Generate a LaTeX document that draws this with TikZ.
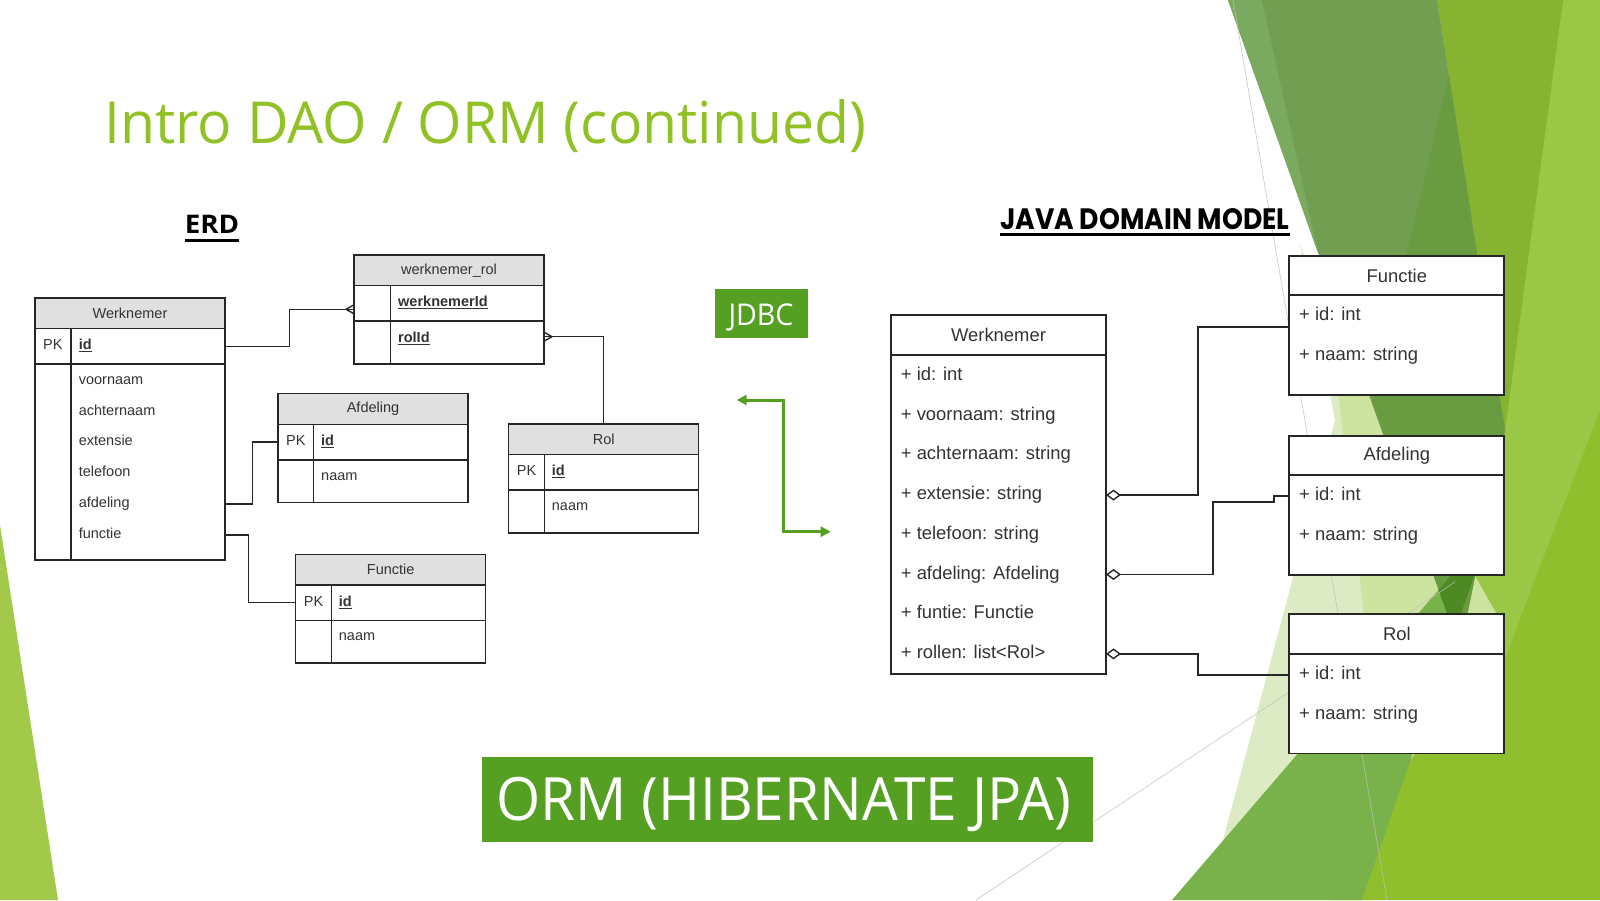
\documentclass[tikz,border=0pt]{standalone}
\usepackage{fontspec}
\setmainfont{Liberation Sans}
\newfontfamily\facetfont{Open Sans}
\newfontfamily\modelfont{Poppins}
\usetikzlibrary{arrows.meta, calc, positioning}

\definecolor{facetgreen}{HTML}{90C226}
\definecolor{boxgreen}{HTML}{55A023}
\definecolor{linegray}{HTML}{262626}
\definecolor{textgray}{HTML}{333333}
\definecolor{headgray}{HTML}{E0E0E0}
\definecolor{facetleft}{HTML}{A3C94B}
\definecolor{facetbase}{HTML}{8FBF2C}
\definecolor{facetlight}{HTML}{9BC746}
\definecolor{facetolive}{HTML}{86B432}
\definecolor{facetdark}{HTML}{719E51}
\definecolor{facetmid}{HTML}{7AAA5F}
\definecolor{facetshade}{HTML}{699B41}
\definecolor{facetpale}{HTML}{DDEBC4}
\definecolor{facetsoft}{HTML}{CDE4A1}
\definecolor{facetgrass}{HTML}{79B24B}
\definecolor{facetdeep}{HTML}{4D8A24}

\newcommand{\erdfont}{\fontsize{14.5}{17}\selectfont}
\newcommand{\umlfont}{\fontsize{18.4}{22}\selectfont}

\tikzset{
  erdline/.style={draw=linegray, line width=1.4pt},
  erdhead/.style={erdline, fill=headgray, minimum width=190pt, minimum height=30.6pt,
    inner sep=0, outer sep=0, anchor=north west, font=\erdfont, text=textgray},
  erdrow/.style={erdline, fill=white, minimum width=190pt, inner sep=0, outer sep=0, anchor=north west},
  erdtext/.style={font=\erdfont, text=textgray, anchor=west, inner sep=0,
    text height=10pt, text depth=3pt},
  umlline/.style={draw=linegray, line width=1.8pt},
  umlhead/.style={umlline, fill=white, minimum width=215pt, minimum height=39.6pt,
    inner sep=0, outer sep=0, anchor=north west, font=\umlfont, text=textgray},
  umlbody/.style={umlline, fill=white, minimum width=215pt, inner sep=0, outer sep=0, anchor=north west},
  umltext/.style={font=\umlfont, text=textgray, anchor=west, inner sep=0,
    text height=13pt, text depth=4pt},
  diamondtail/.style={{Diamond[open, fill=white, length=15pt, width=11pt, line width=1.4pt]}-},
  jdbcarrow/.style={draw=boxgreen, line width=3pt,
    {Triangle[length=10pt, width=10pt]}-{Triangle[length=10pt, width=10pt]}},
  facetrule/.style={draw=black!25, line width=0.5pt},
  crowfoot/.pic={\draw[erdline] (-8,0) -- (0,-4.5) (-8,0) -- (0,4.5);}
}

\begin{document}
\begin{tikzpicture}[x=1pt, y=-1pt]
% Canvas
\useasboundingbox (0,0) rectangle (1600,900);
\fill[white] (0,0) rectangle (1600,900);

% Facets
\fill[facetleft] (0,525) -- (0,900) -- (58,900) -- cycle;
\fill[facetbase] (1437,0) -- (1600,0) -- (1600,900) -- (1330,900) -- (1460,650) -- (1505,430) -- cycle;
\fill[facetlight] (1563,0) -- (1600,0) -- (1600,410) -- (1530,592) -- (1490,700) -- (1460,650) -- (1505,430) -- cycle;
\fill[facetolive] (1437,0) -- (1563,0) -- (1505,430) -- cycle;
\fill[facetpale] (1300,245) -- (1440,600) -- (1290,790) -- (1223,840) -- (1335,420) -- cycle;
\fill[facetsoft] (1330,320) -- (1500,620) -- (1385,800) -- cycle;
\fill[facetdark] (1228,0) -- (1437,0) -- (1505,430) -- (1460,650) -- cycle;
\fill[facetmid] (1228,0) -- (1262,0) -- (1318,253) -- cycle;
\fill[facetshade] (1449,75) -- (1372,400) -- (1460,650) -- (1505,430) -- cycle;
\fill[facetgrass] (1172,900) -- (1490,530) -- (1362,900) -- cycle;
\begin{scope}
  \clip (1228,0) -- (1437,0) -- (1505,430) -- (1460,650) -- cycle;
  \fill[facetdeep] (1172,900) -- (1490,530) -- (1362,900) -- cycle;
\end{scope}
\draw[facetrule] (1233,0) -- (1387,900);
\draw[facetrule] (976,900) -- (1455,582);

% Title and headings
\node[anchor=base west, inner sep=0, text=facetgreen] (title) at (104.5,143.3)
  {\resizebox{761pt}{44pt}{\facetfont Intro DAO / ORM (continued)}};
\node[anchor=base west, inner sep=0] (erd) at (184.6,233.3)
  {\resizebox{54.4pt}{18.3pt}{\facetfont\bfseries ERD}};
\draw[line width=3pt] ($(erd.base west)+(0,6.7)$) -- ($(erd.base east)+(0,6.7)$);
\node[anchor=base west, inner sep=0] (javamodel) at (1000,229.3)
  {\resizebox{289.3pt}{21pt}{\modelfont\bfseries JAVA DOMAIN MODEL}};
\draw[line width=2.8pt] ($(javamodel.base west)+(0,5)$) -- ($(javamodel.base east)+(0,5)$);

% ERD: Werknemer
\node[erdhead] (erdwn) at (35,298) {Werknemer};
\node[erdrow, minimum height=35.5pt] (erdwn-pk) at (erdwn.south west) {};
\node[erdrow, minimum height=196pt] (erdwn-body) at (erdwn-pk.south west) {};
\draw[erdline] ($(erdwn-pk.north west)+(36,0)$) -- ($(erdwn-body.south west)+(36,0)$);
\node[erdtext] (erdwn-pklbl) at ($(erdwn-pk.west)+(8,0)$) {PK};
\node[erdtext] (erdwn-id) at ($(erdwn-pk.west)+(43.6,0)$) {\textbf{\underline{id}}};
\foreach \fld [count=\i from 0] in {voornaam, achternaam, extensie, telefoon, afdeling, functie}
  \node[erdtext] (erdwn-\fld) at ($(erdwn-body.north west)+(43.6,16.7+30.8*\i)$) {\fld};

% ERD: werknemer_rol
\node[erdhead] (erdwr) at (354,255) {werknemer\_rol};
\node[erdrow, minimum height=35.4pt] (erdwr-r1) at (erdwr.south west) {};
\node[erdrow, minimum height=43pt] (erdwr-r2) at (erdwr-r1.south west) {};
\draw[erdline] ($(erdwr-r1.north west)+(36.4,0)$) -- ($(erdwr-r2.south west)+(36.4,0)$);
\node[erdtext] (erdwr-wid) at ($(erdwr-r1.west)+(44,0)$) {\textbf{\underline{werknemerId}}};
\node[erdtext] (erdwr-rid) at ($(erdwr-r2.north west)+(44,17.7)$) {\textbf{\underline{rolId}}};

% ERD: Afdeling, Functie, Rol
\foreach \tbl/\lbl/\x/\y in {erdaf/Afdeling/278/393.7, erdfu/Functie/295.7/554.3, erdrol/Rol/508.7/424} {
  \node[erdhead] (\tbl) at (\x,\y) {\lbl};
  \node[erdrow, minimum height=35.5pt] (\tbl-pk) at (\tbl.south west) {};
  \node[erdrow, minimum height=42.7pt] (\tbl-body) at (\tbl-pk.south west) {};
  \draw[erdline] ($(\tbl-pk.north west)+(35.5,0)$) -- ($(\tbl-body.south west)+(35.5,0)$);
  \node[erdtext] (\tbl-pklbl) at ($(\tbl-pk.west)+(8,0)$) {PK};
  \node[erdtext] (\tbl-id) at ($(\tbl-pk.west)+(43,0)$) {\textbf{\underline{id}}};
  \node[erdtext] (\tbl-naam) at ($(\tbl-body.north west)+(43,17)$) {naam};
}

% ERD relations
\coordinate (erdwr-wn) at ($(erdwr-r1.west)+(0,6)$);
\coordinate (erdwr-rol) at ($(erdwr-r2.east)+(0,-5.8)$);
\draw[erdline] (erdwn-pk.east) -- ++(64.4,0) |- (erdwr-wn);
\draw[erdline] (erdwr-rol) -| (erdrol.north);
\draw[erdline] (erdwn-body.east |- erdwn-afdeling) -- ++(27.2,0) |- (erdaf-pk.west);
\draw[erdline] (erdwn-body.east |- erdwn-functie) -- ++(23.7,0) |- (erdfu-pk.west);
\pic at (erdwr-wn) {crowfoot};
\pic[xscale=-1] at (erdwr-rol) {crowfoot};

% JDBC
\node[fill=boxgreen, minimum width=92.7pt, minimum height=48.4pt, inner sep=0] (jdbc) at (761.7,313.5) {};
\node[anchor=base west, inner sep=0, text=white] (jdbc-lbl) at (728.3,325)
  {\resizebox{65pt}{21.7pt}{\facetfont JDBC}};
\coordinate (jdbc-from) at (736.7,400);
\coordinate (jdbc-to) at (830.7,531.7);
\draw[jdbcarrow] (jdbc-from) -| ($(jdbc-from)!0.5!(jdbc-to)$) |- (jdbc-to);

% Java domain model: Werknemer
\node[umlhead, minimum height=40pt] (jwn) at (891,315) {Werknemer};
\node[umlbody, minimum height=319pt] (jwn-body) at (jwn.south west) {};
\foreach \fld/\typ [count=\i from 0] in {id/int, voornaam/string, achternaam/string, extensie/string,
    telefoon/string, afdeling/Afdeling, funtie/Functie, rollen/list<Rol>}
  \node[umltext] (jwn-\fld) at ($(jwn-body.north west)+(9.7,21+39.7*\i)$) {+ \fld: \typ};

% Java domain model: Functie, Afdeling, Rol
\foreach \nm/\lbl/\y in {jfu/Functie/255.7, jaf/Afdeling/435.7, jrol/Rol/614.3} {
  \node[umlhead] (\nm) at (1289.3,\y) {\lbl};
  \node[umlbody, minimum height=99.5pt] (\nm-body) at (\nm.south west) {};
  \node[umltext] (\nm-id) at ($(\nm-body.north west)+(9.7,20.7)$) {+ id: int};
  \node[umltext] (\nm-naam) at ($(\nm-body.north west)+(9.7,60.7)$) {+ naam: string};
}

% Aggregations
\draw[umlline, diamondtail] (jwn-body.east |- jwn-extensie) -- ++(91.7,0) |- ($(jfu-body.north west)+(0,31.4)$);
\draw[umlline, diamondtail] (jwn-body.east |- jwn-afdeling) -- ++(106.7,0) -- ++(0,-72.2) -- ++(61.3,0) |- (jaf-body.west |- jaf-id);
\draw[umlline, diamondtail] (jwn-body.east |- jwn-rollen) -- ++(91.7,0) |- (jrol-body.west |- jrol-id);

% ORM
\node[fill=boxgreen, minimum width=611pt, minimum height=85pt, inner sep=0] (orm) at (787.3,799.2) {};
\node[anchor=base west, inner sep=0, text=white] (orm-lbl) at (496,820)
  {\resizebox{575pt}{43.3pt}{\facetfont ORM (HIBERNATE JPA)}};
\end{tikzpicture}
\end{document}
